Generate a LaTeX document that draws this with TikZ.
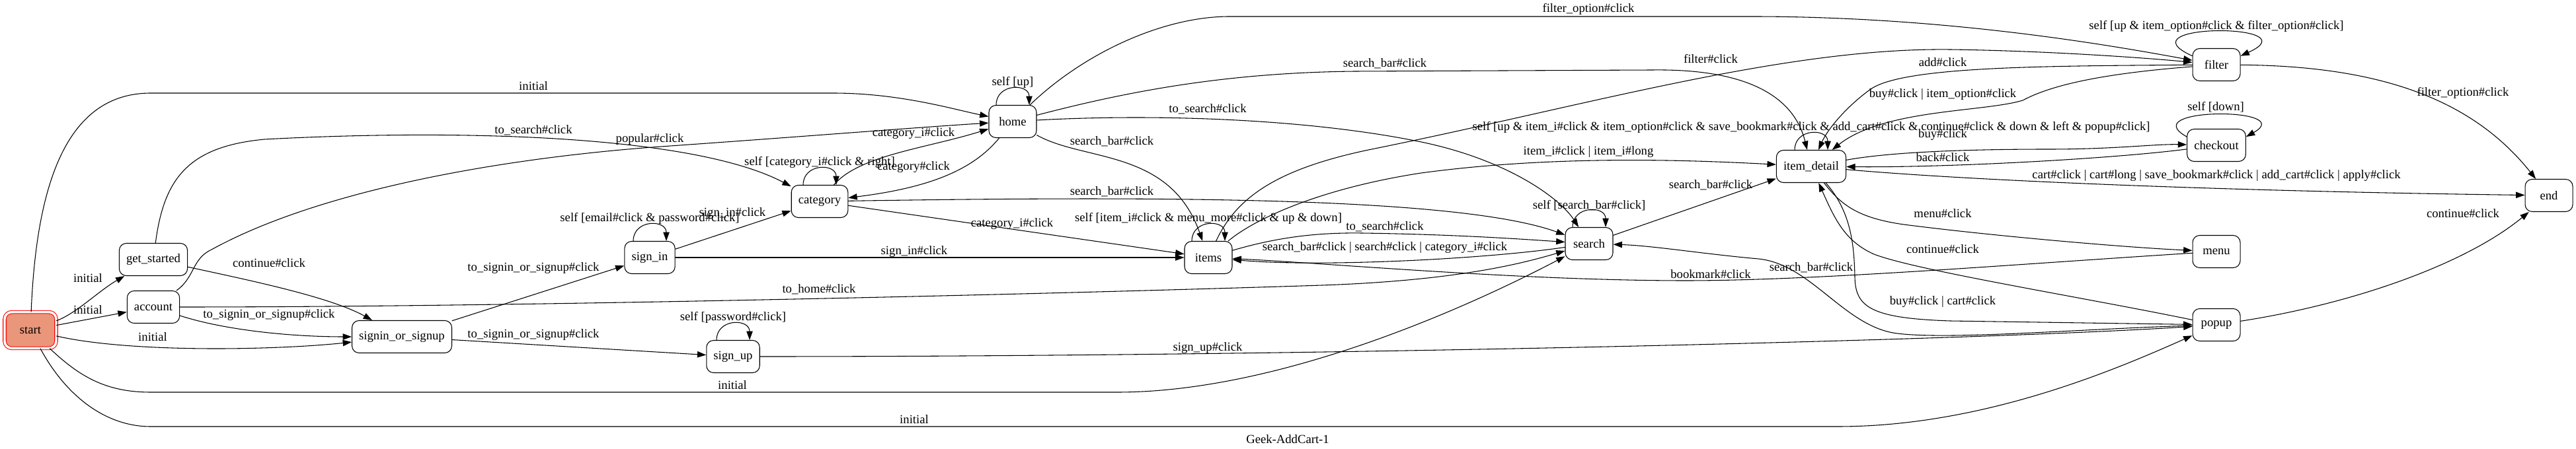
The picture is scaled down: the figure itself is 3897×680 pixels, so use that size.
\documentclass[tikz,border=0pt]{standalone}
\usepackage{fontspec}
\setmainfont{Liberation Serif}
\usetikzlibrary{arrows.meta}
\definecolor{darksalmon}{RGB}{233,150,122}

\begin{document}
\begin{tikzpicture}[x=0.75pt, y=-0.75pt, font=\fontsize{14}{17}\selectfont, line join=round, line cap=round, line width=0.8pt, >={Triangle[length=10pt,width=7pt]},
	state/.style={draw, rounded corners=8pt, minimum width=54pt, minimum height=36.75pt, inner xsep=8pt},
	lbl/.style={inner sep=0pt}]
	\useasboundingbox (0,0) rectangle (3897,680);
	% states
	\node[state, draw=red, fill=darksalmon, double=white, double distance=2.6pt, minimum width=58.5pt, minimum height=41pt] (start) at (46,500) {start};
	\node[state] (getstarted) at (232,393) {get\_started};
	\node[state] (account) at (232,465) {account};
	\node[state] (signinorsignup) at (608,510) {signin\_or\_signup};
	\node[state] (signin) at (983,390) {sign\_in};
	\node[state] (signup) at (1109,540) {sign\_up};
	\node[state] (category) at (1240,305) {category};
	\node[state] (home) at (1532,184) {home};
	\node[state] (items) at (1828,390) {items};
	\node[state] (search) at (2404,369) {search};
	\node[state] (itemdetail) at (2740,252) {item\_detail};
	\node[state] (filter) at (3353,98) {filter};
	\node[state] (checkout) at (3353,220) {checkout};
	\node[state] (endstate) at (3856,296) {end};
	\node[state] (menu) at (3353,381) {menu};
	\node[state] (popup) at (3353,492) {popup};
	\node (title) at (1948,665) {Geek-AddCart-1};
	
	% from start
	\draw[->] (start) .. controls (115,475) and (150,440) .. (getstarted) node[lbl] at (133,421) {initial};
	\draw[->] (start) -- (account) node[lbl] at (133,469) {initial};
	\draw[->] (start) .. controls (200,535) and (420,530) .. (signinorsignup) node[lbl] at (231,510) {initial};
	\draw[->] (start) .. controls (55,280) and (100,141) .. (228,141) -- (1260,141) .. controls (1360,141) and (1440,165) .. (home) node[lbl] at (807,130) {initial};
	\draw[->] (start) .. controls (120,570) and (160,594) .. (228,594) -- (1690,594) .. controls (1950,594) and (2250,450) .. (search) node[lbl] at (1108,583) {initial};
	\draw[->] (start) .. controls (100,600) and (160,646) .. (228,646) -- (2780,646) .. controls (3000,646) and (3200,560) .. (popup) node[lbl] at (1383,635) {initial};
	
	\draw[->] (getstarted) .. controls (248,270) and (285,222) .. (400,211) .. controls (700,195) and (1050,205) .. (category) node[lbl] at (807,197) {to\_search\#click};
	\draw[->] (getstarted) .. controls (380,425) and (500,450) .. (signinorsignup) node[lbl] at (407,398) {continue\#click};
	\draw[->] (account) .. controls (340,500) and (440,510) .. (signinorsignup) node[lbl] at (407,477) {to\_signin\_or\_signup\#click};
	\draw[->] (account) .. controls (295,420) and (290,392) .. (320,378) .. controls (480,290) and (750,240) .. (1000,222) .. controls (1200,208) and (1400,192) .. (home) node[lbl] at (983,211) {popular\#click};
	\draw[->] (account) .. controls (800,465) and (1600,445) .. (2000,432) .. controls (2200,425) and (2300,400) .. (search) node[lbl] at (1239,438) {to\_home\#click};
	\draw[->] (signinorsignup) -- (signin) node[lbl] at (807,406) {to\_signin\_or\_signup\#click};
	\draw[->] (signinorsignup) -- (signup) node[lbl] at (807,507) {to\_signin\_or\_signup\#click};
	\draw[->] (signin) -- (category) node[lbl] at (1108,323) {sign\_in\#click};
	\draw[->] (signin) -- (items) node[lbl] at (1383,381) {sign\_in\#click};
	\draw[->] (signup) .. controls (2000,540) and (3000,515) .. (popup) node[lbl] at (1827,527) {sign\_up\#click};
	
	\draw[->] (category) .. controls (1300,235) and (1400,225) .. (home) node[lbl] at (1382,202) {category\_i\#click};
	\draw[->] (home) .. controls (1470,260) and (1400,285) .. (category) node[lbl] at (1382,253) {category\#click};
	\draw[->] (category) .. controls (1700,298) and (2200,295) .. (search) node[lbl] at (1682,290) {search\_bar\#click};
	\draw[->] (category) -- (items) node[lbl] at (1531,339) {category\_i\#click};
	
	\draw[->] (home) .. controls (1640,80) and (1760,25) .. (1860,25) -- (2650,25) .. controls (2950,25) and (3200,70) .. (filter) node[lbl] at (2403,14) {filter\_option\#click};
	\draw[->] (home) .. controls (1700,140) and (1850,110) .. (2050,108) -- (2500,106) .. controls (2650,104) and (2715,150) .. (itemdetail) node[lbl] at (2095,96) {search\_bar\#click};
	\draw[->] (home) .. controls (1750,172) and (1980,180) .. (2150,215) .. controls (2280,242) and (2360,300) .. (search) node[lbl] at (1827,165) {to\_search\#click};
	\draw[->] (home) .. controls (1640,245) and (1770,225) .. (items) node[lbl] at (1682,214) {search\_bar\#click};
	
	\draw[->] (items) .. controls (1870,300) and (1930,255) .. (2080,225) .. controls (2400,160) and (2700,72) .. (2950,75) .. controls (3100,77) and (3250,88) .. (filter) node[lbl] at (2588,89) {filter\#click};
	\draw[->] (items) .. controls (1900,330) and (2000,285) .. (2150,262) .. controls (2350,235) and (2550,242) .. (itemdetail) node[lbl] at (2403,230) {item\_i\#click | item\_i\#long};
	\draw[->] (items) .. controls (1930,360) and (1990,352) .. (2060,353) .. controls (2200,355) and (2300,362) .. (search) node[lbl] at (2095,343) {to\_search\#click};
	\draw[->] (search) .. controls (2250,392) and (2000,405) .. (items) node[lbl] at (2095,375) {search\_bar\#click | search\#click | category\_i\#click};
	\draw[->] (search) -- (itemdetail) node[lbl] at (2588,280) {search\_bar\#click};
	\draw[->] (menu) .. controls (3050,400) and (2750,425) .. (2550,425) .. controls (2300,425) and (2000,398) .. (items) node[lbl] at (2588,415) {bookmark\#click};
	
	\draw[->] (filter) .. controls (3100,100) and (2880,100) .. (2830,135) .. controls (2795,160) and (2765,195) .. (itemdetail) node[lbl] at (2939,94) {add\#click};
	\draw[->] (filter) .. controls (3200,110) and (3110,125) .. (3060,152) .. controls (3000,170) and (2850,165) .. (itemdetail) node[lbl] at (2939,143) {buy\#click | item\_option\#click};
	\draw[->] (itemdetail) .. controls (2850,232) and (2950,226) .. (3100,226) .. controls (3200,226) and (3260,218) .. (checkout) node[lbl] at (2939,204) {buy\#click};
	\draw[->] (checkout) .. controls (3200,240) and (2950,254) .. (itemdetail) node[lbl] at (2939,238) {back\#click};
	\draw[->] (itemdetail) .. controls (3000,275) and (3400,290) .. (endstate) node[lbl] at (3353,266) {cart\#click | cart\#long | save\_bookmark\#click | add\_cart\#click | apply\#click};
	\draw[->] (itemdetail) .. controls (2785,310) and (2810,330) .. (2880,340) .. controls (3020,358) and (3220,375) .. (menu) node[lbl] at (2939,323) {menu\#click};
	\draw[->] (popup) .. controls (3150,450) and (2900,410) .. (2835,385) .. controls (2790,365) and (2775,330) .. (itemdetail) node[lbl] at (2939,377) {continue\#click};
	\draw[->] (itemdetail) .. controls (2800,320) and (2805,370) .. (2806,420) .. controls (2807,465) and (2830,482) .. (2950,486) -- (popup) node[lbl] at (2939,457) {buy\#click | cart\#click};
	\draw[->] (popup) .. controls (3150,498) and (2950,515) .. (2870,505) .. controls (2790,495) and (2740,400) .. (2660,392) .. controls (2580,385) and (2500,372) .. (search) node[lbl] at (2740,405) {search\_bar\#click};
	\draw[->] (filter) .. controls (3600,100) and (3740,150) .. (endstate) node[lbl] at (3726,141) {filter\_option\#click};
	\draw[->] (popup) .. controls (3560,460) and (3730,400) .. (endstate) node[lbl] at (3726,323) {continue\#click};
	
	% self loops
	\foreach \n/\txt in {signin/{self [email\#click \& password\#click]}, signup/{self [password\#click]}, category/{self [category\_i\#click \& right]}, home/{self [up]}, items/{self [item\_i\#click \& menu\_more\#click \& up \& down]}, search/{self [search\_bar\#click]}, itemdetail/{self [up \& item\_i\#click \& item\_option\#click \& save\_bookmark\#click \& add\_cart\#click \& continue\#click \& down \& left \& popup\#click]}}
	\draw[->] (\n.north) ++(-25,0) .. controls +(0,-33) and +(0,-33) .. ++(50,0) node[lbl, midway, anchor=south] {\txt};
	\draw[->] (filter.160) .. controls +(-110,-50) and +(110,-50) .. (filter.20) node[lbl] at (3353,40) {self [up \& item\_option\#click \& filter\_option\#click]};
	\draw[->] (checkout.164) .. controls +(-80,-45) and +(80,-45) .. (checkout.16) node[lbl] at (3352,162) {self [down]};
\end{tikzpicture}
\end{document}
